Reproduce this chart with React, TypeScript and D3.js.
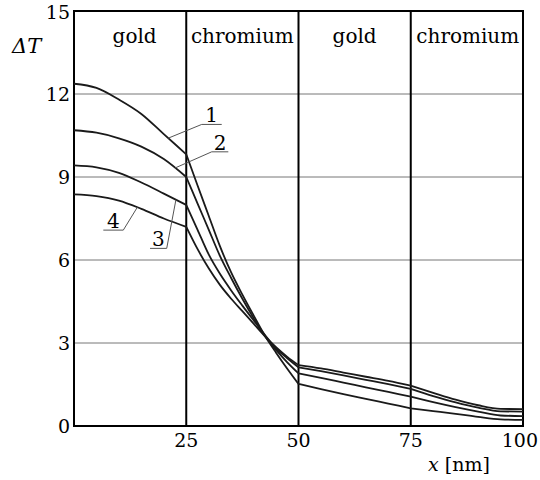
import React from "react";
import * as d3 from "d3";

// x positions (nm) – gold 0-25, chromium 25-50, gold 50-75, chromium 75-100
const xs = [0, 5, 10, 15, 20, 25, 27.5, 30, 32.5, 35, 37.5, 40, 42.5, 45, 47.5, 50, 55, 60, 65, 70, 75, 80, 85, 90, 95, 100];

const curve1 = [12.37, 12.22, 11.8, 11.28, 10.55, 9.82, 8.7, 7.6, 6.5, 5.55, 4.75, 4.0, 3.27, 2.65, 2.07, 1.52, 1.33, 1.15, 0.98, 0.81, 0.64, 0.54, 0.44, 0.33, 0.24, 0.22];
const curve2 = [10.69, 10.6, 10.4, 10.1, 9.65, 9.0, 8.05, 7.1, 6.15, 5.35, 4.6, 3.9, 3.25, 2.75, 2.3, 1.9, 1.74, 1.57, 1.4, 1.23, 1.06, 0.86, 0.68, 0.52, 0.38, 0.36];
const curve3 = [9.42, 9.35, 9.15, 8.8, 8.4, 7.99, 7.1, 6.2, 5.5, 4.9, 4.35, 3.82, 3.3, 2.8, 2.45, 2.12, 1.98, 1.83, 1.67, 1.51, 1.34, 1.08, 0.85, 0.66, 0.53, 0.52];
const curve4 = [8.37, 8.31, 8.15, 7.85, 7.5, 7.2, 6.4, 5.7, 5.1, 4.6, 4.15, 3.7, 3.25, 2.85, 2.5, 2.2, 2.08, 1.93, 1.78, 1.63, 1.46, 1.2, 0.95, 0.75, 0.62, 0.61];
const series = [curve1, curve2, curve3, curve4];

const yTicks = [0, 3, 6, 9, 12, 15];
const xTicks = [25, 50, 75, 100];
const boundaries = [0, 25, 50, 75, 100];
const regionNames = ["gold", "chromium", "gold", "chromium"];
const regionCenters = [13.5, 37.5, 62.5, 87.7];

// curve labels: where the leader touches the curve, the elbow, and which way the underline runs
const curveLabels = ["1", "2", "3", "4"];
const anchorX = [21, 22.5, 22.7, 14.1];
const elbowX = [28.44, 30.67, 20.65, 10.98];
const elbowY = [10.9, 9.91, 6.42, 7.08];
const underlineEndX = [32.9, 34.37, 16.93, 6.53];

const width = 540;
const height = 480;
const m = { left: 74, right: 17, top: 11, bottom: 54 };

const x = d3.scaleLinear().domain([0, 100]).range([m.left, width - m.right]);
const y = d3.scaleLinear().domain([0, 15]).range([height - m.bottom, m.top]);

const interp = (vals: number[], xv: number) => {
  const i = d3.bisectRight(xs, xv) - 1;
  const t = (xv - xs[i]) / (xs[i + 1] - xs[i]);
  return vals[i] + t * (vals[i + 1] - vals[i]);
};

// smooth within each layer, keep the kink at each interface
const pathFor = (vals: number[]) => {
  const line = d3
    .line<number>()
    .x((i) => x(xs[i]))
    .y((i) => y(vals[i]))
    .curve(d3.curveMonotoneX);
  let d = "";
  for (let r = 0; r < boundaries.length - 1; r++) {
    const idx = d3.range(xs.length).filter((i) => xs[i] >= boundaries[r] && xs[i] <= boundaries[r + 1]);
    const seg = line(idx) || "";
    d += r === 0 ? seg : seg.replace(/^M/, "L");
  }
  return d;
};

export default function App() {
  const font = "'DejaVu Serif', serif";
  const small = { fontFamily: font, fontSize: 19 };

  return (
    <svg width={width} height={height} style={{ position: "absolute", left: 0, top: 0, background: "#fff" }}>
      {yTicks.filter((t) => t > 0 && t < 15).map((t) => (
        <line key={"g" + t} x1={x(0)} x2={x(100)} y1={y(t)} y2={y(t)} stroke="#777" strokeWidth={1} />
      ))}
      {boundaries.slice(1, -1).map((b) => (
        <line key={"b" + b} x1={x(b)} x2={x(b)} y1={y(0)} y2={y(15)} stroke="#000" strokeWidth={2} />
      ))}
      <rect x={x(0)} y={y(15)} width={x(100) - x(0)} height={y(0) - y(15)} fill="none" stroke="#000" strokeWidth={2} />

      {series.map((s, i) => (
        <path key={"s" + i} d={pathFor(s)} fill="none" stroke="#1a1a1a" strokeWidth={1.8} strokeLinejoin="round" />
      ))}

      {regionNames.map((n, i) => (
        <text key={"r" + i} x={x(regionCenters[i])} y={43} textAnchor="middle" style={{ fontFamily: font, fontSize: 20 }}>
          {n}
        </text>
      ))}

      {curveLabels.map((lab, i) => {
        const ax = x(anchorX[i]);
        const ay = y(interp(series[i], anchorX[i]));
        const ex = x(elbowX[i]);
        const ey = y(elbowY[i]);
        const ux = x(underlineEndX[i]);
        return (
          <g key={"l" + i}>
            <polyline points={`${ax},${ay} ${ex},${ey} ${ux},${ey}`} fill="none" stroke="#555" strokeWidth={1} />
            <text x={(ex + ux) / 2} y={ey - 2} textAnchor="middle" style={{ fontFamily: font, fontSize: 20 }}>
              {lab}
            </text>
          </g>
        );
      })}

      {yTicks.map((t) => (
        <text key={"y" + t} x={x(0) - 4} y={y(t) + (t === 15 ? 1 : 0)} dy="0.36em" textAnchor="end" style={small}>
          {t}
        </text>
      ))}
      {xTicks.map((t) => (
        <text key={"x" + t} x={t === 100 ? width - 2 : x(t)} y={447} textAnchor={t === 100 ? "end" : "middle"} style={small}>
          {t}
        </text>
      ))}

      <text x={12} y={53} style={{ fontFamily: font, fontSize: 21, fontStyle: "italic" }}>
        ΔT
      </text>
      <text x={428} y={471} style={small}>
        <tspan style={{ fontStyle: "italic" }}>x</tspan> [nm]
      </text>
    </svg>
  );
}
